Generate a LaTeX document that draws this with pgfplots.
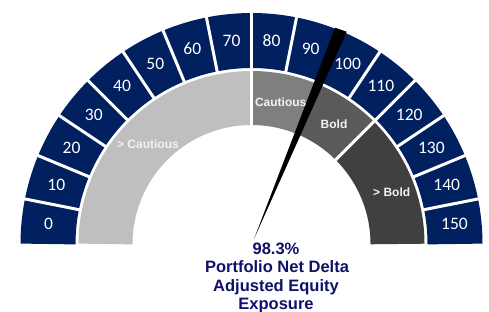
\documentclass[border=0pt]{standalone}
\usepackage{pgfplots}
\pgfplotsset{compat=1.18}
\usepackage{fontspec}
\setmainfont{Liberation Sans}
\newfontfamily\carlito{Carlito}
\definecolor{navy}{HTML}{002060}
\definecolor{txtnavy}{HTML}{10106A}
\definecolor{g1}{HTML}{BFBFBF}
\definecolor{g2}{HTML}{7F7F7F}
\definecolor{g3}{HTML}{5A5A5A}
\definecolor{g4}{HTML}{404040}
\definecolor{lbl}{HTML}{F2F2F2}
\begin{document}
\begin{tikzpicture}
\begin{axis}[hide axis, scale only axis, width=489pt, height=311pt,
  xmin=0, xmax=489, ymin=0, ymax=311, clip=false,
  at={(0,0)}, anchor=origin]
% outer navy scale ring (0..150 in 16 segments)
\addplot[navy, line width=55pt, domain=0:180, samples=121, variable=\t, line join=round]
  ({251.5+203.5*cos(\t)},{67+203.5*sin(\t)});
% bands
\addplot[g1, line width=54pt, domain=90:180, samples=61, variable=\t, line join=round]
  ({251.5+146*cos(\t)},{67+146*sin(\t)});
\addplot[g2, line width=54pt, domain=67.5:90, samples=21, variable=\t, line join=round]
  ({251.5+146*cos(\t)},{67+146*sin(\t)});
\addplot[g3, line width=54pt, domain=45:67.5, samples=21, variable=\t, line join=round]
  ({251.5+146*cos(\t)},{67+146*sin(\t)});
\addplot[g4, line width=54pt, domain=0:45, samples=41, variable=\t, line join=round]
  ({251.5+146*cos(\t)},{67+146*sin(\t)});
% separators
\pgfplotsinvokeforeach{1,...,15}{
  \addplot[white, line width=3pt, domain=174:233, samples=2, variable=\t]
    ({251.5+\t*cos(#1*11.25)},{67+\t*sin(#1*11.25)});
}
\pgfplotsinvokeforeach{90,67.5,45}{
  \addplot[white, line width=3pt, domain=117:175, samples=2, variable=\t]
    ({251.5+\t*cos(#1)},{67+\t*sin(#1)});
}
% needle
\addplot[fill=black, draw=none] coordinates {(254,72) (335,283.3) (346.7,279.3)} -- cycle;
% scale labels
\pgfplotsinvokeforeach{0,...,15}{
  \node[text=white, font=\carlito\fontsize{17.5}{20}\selectfont]
    at (axis cs:{251.5+204*cos(180-(#1+0.5)*11.25)},{67+204*sin(180-(#1+0.5)*11.25)})
    {\the\numexpr#1*10\relax};
}
% band labels
\node[text=lbl, font=\bfseries\fontsize{12}{14}\selectfont] at (axis cs:148,166.7) {> Cautious};
\node[text=lbl, font=\bfseries\fontsize{12}{14}\selectfont] at (axis cs:280.7,208.3) {Cautious};
\node[text=lbl, font=\bfseries\fontsize{12}{14}\selectfont] at (axis cs:334,186.7) {Bold};
\node[text=lbl, font=\bfseries\fontsize{12}{14}\selectfont] at (axis cs:391.7,118.7) {> Bold};
% title text
\node[anchor=base, text=txtnavy, font=\bfseries\fontsize{16.5}{18}\selectfont] at (axis cs:276,57) {98.3\%};
\node[anchor=base, text=txtnavy, font=\bfseries\fontsize{16.5}{18}\selectfont] at (axis cs:277,38.3) {Portfolio Net Delta};
\node[anchor=base, text=txtnavy, font=\bfseries\fontsize{16.5}{18}\selectfont] at (axis cs:276,19.6) {Adjusted Equity};
\node[anchor=base, text=txtnavy, font=\bfseries\fontsize{16.5}{18}\selectfont] at (axis cs:276,1.5) {Exposure};
\end{axis}
\pgfresetboundingbox
\path[use as bounding box] (0,0) rectangle (489pt,311pt);
\end{tikzpicture}
\end{document}
